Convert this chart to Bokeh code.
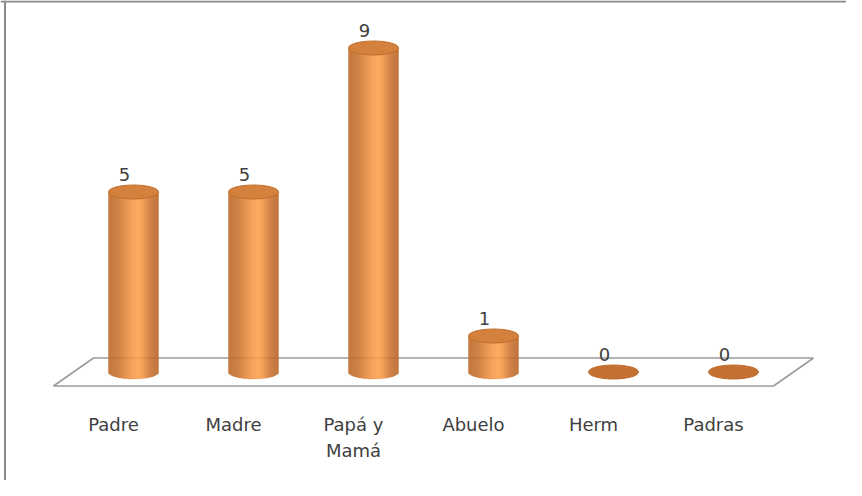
import math
from bokeh.plotting import figure
from bokeh.models import ColumnDataSource, Range1d, Span
from bokeh.core.properties import value
from bokeh.embed import file_html
from bokeh.resources import INLINE

# ---- data ----
categories = ["Padre", "Madre", "Papá y\nMamá", "Abuelo", "Herm", "Padras"]
values = [5, 5, 9, 1, 0, 0]

# ---- layout constants (styles) ----
W, H = 846, 480
PX_X = 120.0      # pixels per category
PX_Y = 36.0       # pixels per unit
X0_PX = 133.0     # frame px of first category
Y0_PX = 108.5     # frame px (from bottom) of value 0
CYL_W = 50        # cylinder width px
ELL_H = 14        # ellipse height px
SHEAR = 20        # floor shear px
DEPTH = 14        # floor half depth px

xs_start = -X0_PX / PX_X
ys_start = -Y0_PX / PX_Y

p = figure(width=W, height=H, output_backend="svg", toolbar_location=None,
           x_range=Range1d(xs_start, xs_start + W / PX_X),
           y_range=Range1d(ys_start, ys_start + H / PX_Y),
           x_axis_type=None, y_axis_type=None,
           min_border=0, min_border_left=0, min_border_right=0,
           min_border_top=0, min_border_bottom=0)
p.outline_line_color = None
p.background_fill_color = "white"
p.border_fill_color = "white"

# chart-area border (only top and left visible in the reference crop)
p.add_layout(Span(location=ys_start + (H - 1) / PX_Y, dimension="width",
                  line_color="#8a8a8a", line_width=2))
p.add_layout(Span(location=xs_start + 4.5 / PX_X, dimension="height",
                  line_color="#8a8a8a", line_width=2))

# floor
n = len(categories)
s = SHEAR / PX_X
d = DEPTH / PX_Y
p.patch([-0.5 - s, n - 0.5 - s, n - 0.5 + s, -0.5 + s],
        [-d, -d, d, d], fill_color=None, line_color="#9c9c9c", line_width=1.6)

# cylinder bodies as shaded strips
dark = (186, 100, 36)
light = (252, 157, 74)
def shade(t):
    sig = 0.7 if t < 0.2 else 0.42
    w = math.exp(-((t - 0.2) / sig) ** 2)
    r, g, b = (int(dark[k] + (light[k] - dark[k]) * w) for k in range(3))
    return "#%02x%02x%02x" % (r, g, b)

half = CYL_W / 2.0
step = 1.0
sx, stop, sbot, scol = [], [], [], []
for i, v in enumerate(values):
    if v <= 0:
        continue
    dx = -half + step / 2
    while dx < half:
        t = dx / half
        sx.append(i + dx / PX_X)
        stop.append(v)
        sbot.append(-(ELL_H / 2.0 / PX_Y) * math.sqrt(max(0.0, 1 - t * t)))
        scol.append(shade(t))
        dx += step
strips = ColumnDataSource(dict(x=sx, top=stop, bottom=sbot, color=scol))
p.vbar(x="x", top="top", bottom="bottom", width=step / PX_X,
       fill_color="color", line_color="color", line_width=0.3, source=strips)

# top ellipses
idx = list(range(n))
top_cols = ["#d4813d" if v > 0 else "#c27133" for v in values]
tops = ColumnDataSource(dict(x=idx, y=values, c=top_cols))
p.ellipse(x="x", y="y", width=CYL_W, height=ELL_H, width_units="screen",
          height_units="screen", fill_color="c", line_color="#bf6d2e",
          line_width=1, source=tops)

# value labels
vl = ColumnDataSource(dict(x=idx, y=values, t=[str(v) for v in values]))
p.text(x="x", y="y", text="t", source=vl, x_offset=-9, y_offset=-18,
       text_align="center", text_baseline="middle", text_font_size="18px",
       text_font=value("DejaVu Sans"), text_color="#404040")

# category labels
cl = ColumnDataSource(dict(x=[i - s for i in idx], y=[-d] * n, t=categories))
p.text(x="x", y="y", text="t", source=cl, y_offset=28,
       text_align="center", text_baseline="top", text_font_size="18px",
       text_font=value("DejaVu Sans"), text_color="#404040",
       text_line_height=1.25)

open("out.html", "w").write(file_html(p, INLINE))
